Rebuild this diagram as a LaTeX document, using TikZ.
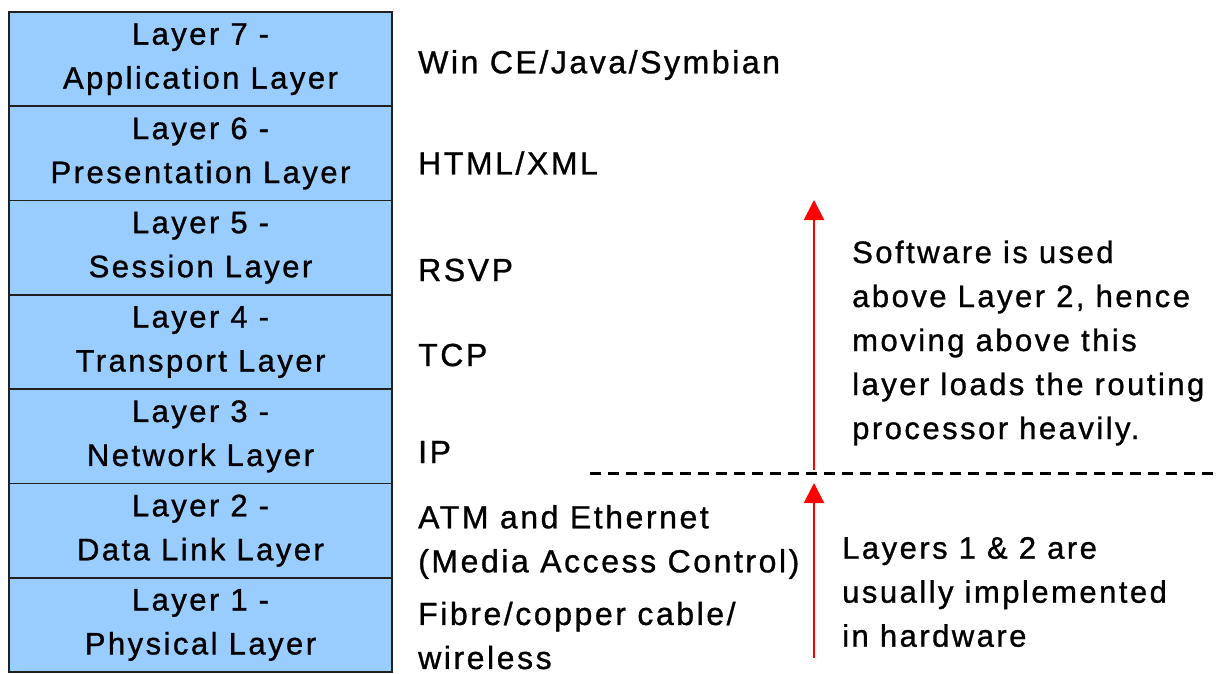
\documentclass[tikz,border=0pt]{standalone}
\usepackage{fontspec}
\setmainfont{Liberation Sans}[LetterSpace=8,FakeBold=1]
\usetikzlibrary{arrows.meta}
\definecolor{boxblue}{HTML}{99CCFF}
\definecolor{boxedge}{HTML}{202020}
\begin{document}
\begin{tikzpicture}[x=1pt,y=-1pt,
  font=\fontsize{31}{44}\selectfont,
  layerbox/.style={draw=boxedge, line width=1.6pt, fill=boxblue,
    minimum width=383pt, minimum height=94.3pt, align=center, inner sep=0pt},
  proto/.style={anchor=west, align=left, inner sep=0pt,
    font=\fontsize{32}{44}\selectfont},
  note/.style={anchor=west, align=left, inner sep=0pt},
  uparrow/.style={draw=red, line width=2pt, -{Triangle[width=20pt,length=20pt]}},
  boundary/.style={draw=black, line width=3pt, dash pattern=on 11pt off 7pt}]
\useasboundingbox (0,0) rectangle (1220,674);

% OSI stack
\node[layerbox] (l7) at (200.5,59.15)  {Layer 7 -\\Application Layer};
\node[layerbox] (l6) at (200.5,153.45) {Layer 6 -\\Presentation Layer};
\node[layerbox] (l5) at (200.5,247.75) {Layer 5 -\\Session Layer};
\node[layerbox] (l4) at (200.5,342.05) {Layer 4 -\\Transport Layer};
\node[layerbox] (l3) at (200.5,436.35) {Layer 3 -\\Network Layer};
\node[layerbox] (l2) at (200.5,530.65) {Layer 2 -\\Data Link Layer};
\node[layerbox] (l1) at (200.5,624.95) {Layer 1 -\\Physical Layer};

% protocols per layer
\node[proto] (p7) at (418,65)    {Win CE/Java/Symbian};
\node[proto] (p6) at (418,163)   {HTML/XML};
\node[proto] (p5) at (418,270)   {RSVP};
\node[proto] (p4) at (418,355)   {TCP};
\node[proto] (p3) at (418,452)   {IP};
\node[proto] (p2) at (418,542)   {ATM and Ethernet\\(Media Access Control)};
\node[proto] (p1) at (418,635.5) {Fibre/copper cable/\\wireless};

% software / hardware boundary
\coordinate (dl) at (590,473);
\coordinate (dr) at (1220,473);
\draw[boundary] (dl) -- (dr);

\coordinate (swfrom) at (814,470);
\coordinate (swto)   at (814,200);
\draw[uparrow] (swfrom) -- (swto);
\coordinate (hwfrom) at (814,658);
\coordinate (hwto)   at (814,483);
\draw[uparrow] (hwfrom) -- (hwto);

\node[note] (sw) at (852,343) {Software is used\\above Layer 2, hence\\moving above this\\layer loads the routing\\processor heavily.};
\node[note] (hw) at (842,592) {Layers 1 \& 2 are\\usually implemented\\in hardware};
\end{tikzpicture}
\end{document}
